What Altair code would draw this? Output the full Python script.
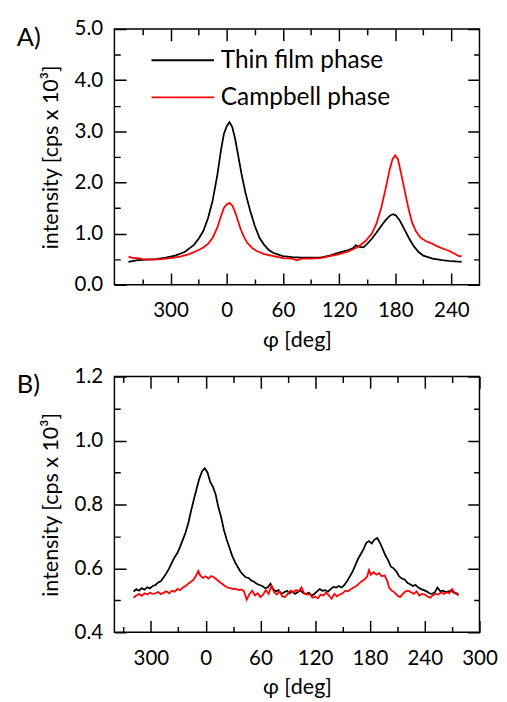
import altair as alt
import pandas as pd

FONT = "Lato"

# ---------------- Panel A data ----------------
a_thin_phi = [-105, -95, -85, -75, -65, -55, -45, -35, -30, -25, -20, -15, -10, -6, -3, 0, 3, 6, 9, 12, 16, 20, 25, 30, 35, 40, 45, 50, 60, 70, 80, 90, 100, 110, 120, 130, 135, 138, 142, 146, 150, 155, 160, 165, 170, 175, 178, 181, 185, 190, 195, 200, 205, 210, 220, 230, 240, 251]
a_thin_val = [0.45, 0.48, 0.49, 0.50, 0.53, 0.57, 0.64, 0.78, 0.90, 1.05, 1.30, 1.65, 2.15, 2.65, 2.95, 3.10, 3.18, 3.08, 2.85, 2.55, 2.15, 1.80, 1.45, 1.15, 0.92, 0.78, 0.68, 0.62, 0.56, 0.54, 0.53, 0.53, 0.53, 0.57, 0.63, 0.68, 0.72, 0.77, 0.74, 0.73, 0.80, 0.90, 1.02, 1.15, 1.27, 1.36, 1.38, 1.35, 1.25, 1.08, 0.90, 0.75, 0.64, 0.57, 0.51, 0.48, 0.46, 0.45]

a_camp_phi = [-105, -100, -95, -90, -80, -70, -60, -50, -40, -30, -25, -20, -15, -10, -6, -3, 0, 3, 6, 9, 12, 15, 18, 22, 27, 32, 40, 50, 60, 70, 75, 80, 90, 100, 110, 120, 130, 140, 148, 155, 160, 165, 170, 174, 177, 180, 183, 186, 190, 194, 198, 202, 207, 213, 220, 225, 232, 238, 244, 248, 251]
a_camp_val = [0.55, 0.52, 0.52, 0.50, 0.49, 0.50, 0.52, 0.55, 0.60, 0.68, 0.73, 0.80, 0.92, 1.12, 1.35, 1.50, 1.57, 1.60, 1.55, 1.42, 1.25, 1.08, 0.95, 0.82, 0.72, 0.66, 0.60, 0.56, 0.52, 0.51, 0.48, 0.51, 0.51, 0.52, 0.56, 0.60, 0.65, 0.74, 0.85, 1.00, 1.20, 1.50, 1.90, 2.25, 2.45, 2.53, 2.45, 2.20, 1.85, 1.50, 1.22, 1.05, 0.92, 0.85, 0.80, 0.75, 0.70, 0.66, 0.60, 0.56, 0.56]

# ---------------- Panel B data ----------------
b_thin_phi = [-79, -76, -73, -70, -67, -64, -61, -58, -55, -52, -49, -46, -43, -40, -37, -34, -31, -28, -25, -22, -19, -16, -13, -10, -7, -4, -1, 2, 5, 8, 11, 14, 17, 20, 23, 26, 29, 32, 35, 38, 41, 44, 47, 50, 53, 56, 59, 62, 65, 68, 71, 74, 77, 80, 83, 86, 89, 92, 95, 98, 101, 104, 107, 110, 113, 116, 119, 122, 125, 128, 131, 134, 137, 140, 143, 146, 149, 152, 155, 158, 161, 164, 167, 170, 173, 176, 179, 182, 185, 188, 191, 194, 197, 200, 203, 206, 209, 212, 215, 218, 221, 224, 227, 230, 233, 236, 239, 242, 245, 248, 251, 254, 257, 260, 263, 266, 269, 272, 275, 277]
b_thin_val = [0.527, 0.535, 0.530, 0.538, 0.533, 0.541, 0.537, 0.545, 0.548, 0.556, 0.560, 0.572, 0.585, 0.600, 0.618, 0.635, 0.648, 0.668, 0.690, 0.712, 0.742, 0.780, 0.815, 0.848, 0.880, 0.903, 0.913, 0.900, 0.870, 0.855, 0.830, 0.790, 0.760, 0.720, 0.690, 0.665, 0.640, 0.620, 0.605, 0.590, 0.580, 0.572, 0.570, 0.562, 0.558, 0.552, 0.548, 0.545, 0.538, 0.540, 0.552, 0.535, 0.528, 0.532, 0.520, 0.525, 0.530, 0.522, 0.528, 0.520, 0.526, 0.530, 0.522, 0.520, 0.524, 0.515, 0.520, 0.528, 0.535, 0.530, 0.532, 0.527, 0.535, 0.542, 0.540, 0.545, 0.540, 0.548, 0.560, 0.575, 0.590, 0.610, 0.630, 0.645, 0.660, 0.680, 0.685, 0.678, 0.690, 0.695, 0.680, 0.660, 0.640, 0.625, 0.605, 0.600, 0.590, 0.575, 0.568, 0.565, 0.555, 0.550, 0.545, 0.548, 0.540, 0.535, 0.532, 0.528, 0.522, 0.520, 0.525, 0.540, 0.528, 0.530, 0.526, 0.528, 0.530, 0.524, 0.522, 0.520]

b_camp_phi = [-79, -76, -73, -70, -67, -64, -61, -58, -55, -52, -49, -46, -43, -40, -37, -34, -31, -28, -25, -22, -19, -16, -13, -10, -8, -6, -3, 0, 3, 6, 9, 12, 15, 18, 21, 24, 27, 30, 33, 36, 39, 42, 45, 48, 51, 54, 57, 60, 63, 66, 69, 72, 75, 78, 81, 84, 87, 90, 93, 96, 99, 102, 105, 108, 111, 114, 117, 120, 123, 126, 129, 132, 135, 138, 141, 144, 147, 150, 153, 156, 159, 162, 165, 168, 171, 174, 177, 179, 181, 184, 187, 190, 193, 196, 199, 201, 204, 207, 210, 213, 216, 219, 222, 225, 228, 231, 234, 237, 240, 243, 246, 249, 252, 255, 258, 261, 264, 267, 270, 273, 276, 277]
b_camp_val = [0.508, 0.515, 0.520, 0.514, 0.522, 0.518, 0.524, 0.520, 0.522, 0.526, 0.519, 0.524, 0.528, 0.522, 0.530, 0.527, 0.535, 0.532, 0.540, 0.545, 0.552, 0.558, 0.565, 0.580, 0.592, 0.578, 0.570, 0.575, 0.568, 0.576, 0.572, 0.565, 0.558, 0.552, 0.545, 0.540, 0.538, 0.535, 0.536, 0.532, 0.534, 0.528, 0.502, 0.520, 0.530, 0.515, 0.522, 0.510, 0.518, 0.532, 0.520, 0.545, 0.525, 0.518, 0.528, 0.512, 0.510, 0.520, 0.530, 0.525, 0.532, 0.528, 0.540, 0.522, 0.518, 0.520, 0.508, 0.512, 0.506, 0.518, 0.515, 0.525, 0.515, 0.505, 0.520, 0.512, 0.518, 0.522, 0.530, 0.528, 0.535, 0.540, 0.545, 0.552, 0.560, 0.565, 0.575, 0.595, 0.580, 0.588, 0.580, 0.585, 0.575, 0.578, 0.560, 0.540, 0.530, 0.525, 0.515, 0.510, 0.520, 0.528, 0.530, 0.525, 0.520, 0.528, 0.515, 0.520, 0.518, 0.512, 0.508, 0.516, 0.520, 0.518, 0.525, 0.520, 0.525, 0.522, 0.535, 0.522, 0.518, 0.515]

phases = ["Thin film phase", "Campbell phase"]
colors = ["#000000", "#ff0000"]

W = 374
H = 262
MAJOR = 12
MINOR = 6


def edge_dash(length, size):
    # a grid line that is only drawn for `size` px at each end = inward mirrored ticks
    return [size, length - 2 * size, size]


def panel(thin_phi, thin_val, camp_phi, camp_val, xdom, ydom,
          xvals, x_major_test, x_label_expr,
          yvals, y_major_test, y_label_expr, letter):
    df = pd.concat([
        pd.DataFrame({"phi": thin_phi, "val": thin_val, "phase": phases[0]}),
        pd.DataFrame({"phi": camp_phi, "val": camp_val, "phase": phases[1]}),
    ], ignore_index=True)
    xs = alt.Scale(domain=xdom, nice=False, zero=False)
    ys = alt.Scale(domain=ydom, nice=False, zero=False)

    lines = alt.Chart(df).mark_line(strokeWidth=1.8).encode(
        x=alt.X("phi:Q", scale=xs,
                axis=alt.Axis(orient="bottom", values=xvals, domain=False, ticks=False,
                              grid=True, gridColor="black", gridOpacity=1, gridWidth=1.5,
                              gridDash={"condition": {"test": x_major_test,
                                                      "value": edge_dash(H, MAJOR)},
                                        "value": edge_dash(H, MINOR)},
                              labelExpr=x_label_expr, labelPadding=16, labelFlush=False,
                              labelOverlap=False,
                              title="φ [deg]", titlePadding=9)),
        y=alt.Y("val:Q", scale=ys,
                axis=alt.Axis(orient="left", values=yvals, domain=False, ticks=False,
                              grid=True, gridColor="black", gridOpacity=1, gridWidth=1.5,
                              gridDash={"condition": {"test": y_major_test,
                                                      "value": edge_dash(W, MAJOR)},
                                        "value": edge_dash(W, MINOR)},
                              labelExpr=y_label_expr, labelPadding=12, labelOverlap=False,
                              title="intensity [cps x 10³]", titlePadding=12)),
        color=alt.Color("phase:N", sort=phases,
                        scale=alt.Scale(domain=phases, range=colors),
                        legend=alt.Legend(orient="none", legendX=37, legendY=17,
                                          title=None, symbolType="stroke",
                                          symbolSize=4096, symbolStrokeWidth=2,
                                          clipHeight=30, labelLimit=400,
                                          labelFontSize=25, labelFont=FONT,
                                          labelColor="black", rowPadding=8,
                                          labelOffset=6)),
    )

    letter_layer = alt.Chart(pd.DataFrame({"t": [letter]})).mark_text(
        align="left", baseline="top", fontSize=26, font=FONT, color="black"
    ).encode(text="t:N", x=alt.value(-100), y=alt.value(-4))

    return alt.layer(lines, letter_layer).properties(width=W, height=H)


X_MAJOR_TEST = "abs(datum.value) % 60 === 0"
X_LABEL_EXPR = ("abs(datum.value) % 60 !== 0 ? '' : "
                "(datum.value < 0 ? format(datum.value + 360, 'd') : format(datum.value, 'd'))")

pa = panel(a_thin_phi, a_thin_val, a_camp_phi, a_camp_val,
           [-120, 270], [0, 5],
           [-90, -60, -30, 0, 30, 60, 90, 120, 150, 180, 210, 240],
           X_MAJOR_TEST, X_LABEL_EXPR,
           [0, 0.5, 1, 1.5, 2, 2.5, 3, 3.5, 4, 4.5, 5],
           "round(datum.value * 10) % 10 === 0",
           "round(datum.value * 10) % 10 !== 0 ? '' : format(datum.value, '.1f')",
           "A)")

pb = panel(b_thin_phi, b_thin_val, b_camp_phi, b_camp_val,
           [-100, 300], [0.4, 1.2],
           [-90, -60, -30, 0, 30, 60, 90, 120, 150, 180, 210, 240, 270, 300],
           X_MAJOR_TEST, X_LABEL_EXPR,
           [0.4, 0.5, 0.6, 0.7, 0.8, 0.9, 1.0, 1.1, 1.2],
           "round(datum.value * 10) % 2 === 0",
           "round(datum.value * 10) % 2 !== 0 ? '' : format(datum.value, '.1f')",
           "B)")

chart = alt.vconcat(pa, pb, spacing=14).properties(
    padding={"left": 8, "top": 1, "right": 0, "bottom": 0},
    background="white",
).configure_view(
    stroke="black", strokeWidth=1.5
).configure_axis(
    labelFont=FONT, labelFontSize=21, labelColor="black",
    titleFont=FONT, titleFontSize=22, titleFontWeight="normal", titleColor="black",
)

chart.save("out.html", embed_options={"renderer": "svg", "actions": False})
